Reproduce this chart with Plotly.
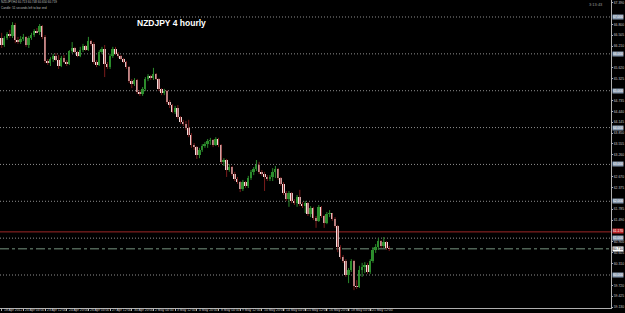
import plotly.graph_objects as go

# ---------------- data ----------------
open0 = 66.43
close = [66.24, 66.43, 66.54, 66.48, 66.78, 66.38, 66.32, 66.40, 66.46, 66.24,
         66.43, 66.51, 66.62, 66.59, 66.76, 66.46, 65.81, 65.75, 65.86, 65.94,
         65.83, 65.67, 65.89, 65.78, 65.72, 66.08, 66.16, 66.05, 65.94, 66.10,
         66.21, 66.10, 66.35, 66.27, 65.78, 65.70, 66.05, 66.13, 65.72, 65.64,
         65.94, 66.13, 66.00, 65.94, 65.86, 65.78, 65.64, 65.26, 65.18, 65.29,
         64.97, 64.91, 65.05, 65.32, 65.40, 65.34, 65.45, 65.32, 65.05, 64.94,
         64.99, 64.69, 64.61, 64.42, 64.53, 64.29, 64.15, 64.10, 63.99, 63.80,
         63.53, 63.47, 63.26, 63.39, 63.50, 63.55, 63.64, 63.66, 63.53, 63.69,
         63.53, 63.07, 63.12, 62.85, 62.93, 62.74, 62.61, 62.52, 62.33, 62.52,
         62.42, 62.63, 62.80, 62.88, 62.99, 62.80, 62.74, 62.66, 62.61, 62.66,
         62.80, 62.88, 62.63, 62.47, 62.23, 62.06, 62.23, 62.01, 61.95, 62.12,
         61.93, 61.87, 61.95, 61.66, 61.82, 61.55, 61.47, 61.85, 61.60, 61.41,
         61.66, 61.68, 61.52, 61.33, 60.76, 60.49, 60.38, 60.00, 60.14, 60.38,
         59.70, 59.68, 60.14, 60.22, 60.27, 60.08, 60.38, 60.68, 60.76, 60.92,
         60.79, 60.90, 60.73, 60.71]
high = [66.57, 66.48, 66.59, 66.65, 66.86, 66.84, 66.46, 66.48, 66.54, 66.48,
        66.48, 66.57, 66.67, 66.70, 66.81, 66.78, 66.51, 65.86, 65.91, 66.00,
        66.02, 65.97, 65.94, 65.97, 65.83, 66.10, 66.32, 66.19, 66.08, 66.19,
        66.27, 66.24, 66.46, 66.38, 66.32, 65.83, 66.10, 66.19, 66.24, 65.78,
        66.00, 66.19, 66.19, 66.05, 65.97, 65.89, 65.81, 65.67, 65.32, 65.34,
        65.32, 65.02, 65.10, 65.37, 65.45, 65.43, 65.62, 65.48, 65.34, 65.07,
        65.05, 65.02, 64.75, 64.64, 64.59, 64.61, 64.31, 64.21, 64.18, 64.21,
        63.85, 63.58, 63.50, 63.45, 63.55, 63.61, 63.69, 63.72, 63.69, 63.74,
        63.72, 63.55, 63.17, 63.15, 63.01, 62.96, 62.80, 62.66, 62.55, 62.58,
        62.55, 62.69, 62.85, 62.93, 63.12, 63.07, 62.85, 62.80, 62.71, 62.71,
        62.90, 62.96, 62.90, 62.66, 62.52, 62.28, 62.28, 62.25, 62.06, 62.17,
        62.31, 61.98, 62.01, 61.98, 61.87, 61.85, 61.60, 61.90, 61.87, 61.63,
        61.71, 61.76, 61.68, 61.57, 61.36, 60.81, 60.54, 60.43, 60.19, 60.43,
        60.41, 59.86, 60.25, 60.33, 60.35, 60.33, 60.43, 60.76, 60.84, 61.00,
        60.95, 61.03, 60.92, 60.79]
low = [66.16, 66.19, 66.38, 66.43, 66.43, 66.29, 66.27, 66.27, 66.35, 66.19,
       66.16, 66.38, 66.46, 66.57, 66.51, 66.40, 65.75, 65.70, 65.67, 65.78,
       65.81, 65.59, 65.64, 65.75, 65.67, 65.70, 66.02, 66.02, 65.91, 65.91,
       66.05, 66.08, 66.08, 66.21, 65.72, 65.64, 65.67, 66.00, 65.37, 65.59,
       65.59, 65.89, 65.97, 65.89, 65.83, 65.75, 65.59, 65.21, 65.07, 65.13,
       64.91, 64.86, 64.86, 64.99, 65.26, 65.29, 65.29, 65.29, 64.99, 64.88,
       64.88, 64.64, 64.53, 64.40, 64.37, 64.23, 64.10, 64.04, 63.93, 63.74,
       63.45, 63.39, 63.15, 63.17, 63.34, 63.45, 63.45, 63.53, 63.47, 63.50,
       63.47, 63.01, 62.96, 62.66, 62.80, 62.69, 62.55, 62.47, 62.25, 62.28,
       62.36, 62.36, 62.58, 62.71, 62.82, 62.74, 62.69, 62.28, 62.55, 62.55,
       62.55, 62.63, 62.58, 62.42, 62.17, 62.01, 61.85, 61.95, 61.90, 61.85,
       61.87, 61.82, 61.68, 61.60, 61.57, 61.49, 61.28, 61.44, 61.55, 61.28,
       61.38, 61.57, 61.47, 61.28, 60.62, 60.43, 60.33, 59.95, 59.78, 60.08,
       59.59, 59.62, 59.65, 59.95, 60.05, 60.03, 60.03, 60.33, 60.60, 60.68,
       60.73, 60.73, 60.68, 60.65]

date_labels = ["18 Apr 2012", "20 Apr 04:00", "23 Apr 12:00", "24 Apr 20:00",
               "26 Apr 04:00", "27 Apr 12:00", "30 Apr 20:00", "2 May 04:00",
               "3 May 12:00", "4 May 20:00", "8 May 04:00", "9 May 12:00",
               "10 May 20:00", "14 May 04:00", "15 May 12:00", "16 May 20:00",
               "18 May 04:00", "21 May 12:00"]
date_label_bars = [0, 8, 16, 24, 32, 40, 48, 56, 64, 72, 80, 88, 96, 104,
                   112, 120, 128, 136]

# scale labels not covered by the level boxes
price_ticks = [59.130, 59.425, 59.720, 60.310, 60.605, 60.900,
               61.490, 61.785, 62.375, 62.670, 63.260, 63.555,
               63.850, 64.145, 64.440, 64.735, 65.325, 65.620,
               66.210, 66.505, 66.800, 67.390]

level_lines = [60.0, 61.0, 62.0, 63.0, 64.0, 65.0, 66.0, 67.0]
red_level = 61.17
bid_price = close[-1]

title_text = "NZDJPY 4 hourly"
info_line1 = "NZDJPY,H4 60.713 60.748 60.650 60.719"
info_line2 = "Candle: 51 seconds left to bar end"
timer_text = "3:13:43"

# ---------------- build ----------------
n = len(close)
opens = [open0] + close[:-1]
idx = list(range(n))

BULL_BODY = "#2e8f2e"
BULL_WICK = "#2b8a2b"
BEAR_BODY = "#f5dcdc"
BEAR_WICK = "#7a1c1c"

wx_bull, wy_bull, wx_bear, wy_bear = [], [], [], []
body_base, body_h, body_col = [], [], []
for i in idx:
    o, c, h, l = opens[i], close[i], high[i], low[i]
    bull = c >= o
    if bull:
        wx_bull += [i, i, None]
        wy_bull += [l, h, None]
    else:
        wx_bear += [i, i, None]
        wy_bear += [l, h, None]
    body_base.append(min(o, c))
    body_h.append(max(abs(c - o), 0.012))
    body_col.append(BULL_BODY if bull else BEAR_BODY)

fig = go.Figure()
fig.add_trace(go.Scatter(x=wx_bear, y=wy_bear, mode="lines",
                         line=dict(color=BEAR_WICK, width=1),
                         hoverinfo="skip", showlegend=False))
fig.add_trace(go.Scatter(x=wx_bull, y=wy_bull, mode="lines",
                         line=dict(color=BULL_WICK, width=1),
                         hoverinfo="skip", showlegend=False))
fig.add_trace(go.Bar(x=idx, y=body_h, base=body_base, width=0.72,
                     marker=dict(color=body_col, line=dict(width=0)),
                     showlegend=False))

BOX_FONT = dict(size=3.3, family="Liberation Sans")
for lv in level_lines:
    fig.add_shape(type="line", xref="paper", x0=0, x1=1, y0=lv, y1=lv,
                  line=dict(color="#8f8f8f", width=1, dash="1px,2px"), layer="below")
    fig.add_annotation(xref="paper", x=1, y=lv, xanchor="left", yanchor="middle",
                       text=f"{lv:.3f}", showarrow=False, bgcolor="#8597ad",
                       font=dict(BOX_FONT, color="#ffffff"),
                       borderpad=0, xshift=1)

fig.add_shape(type="line", xref="paper", x0=0, x1=1, y0=red_level, y1=red_level,
              line=dict(color="#9e2626", width=1), layer="below")
fig.add_annotation(xref="paper", x=1, y=red_level, xanchor="left", yanchor="middle",
                   text=f"{red_level:.3f}", showarrow=False, bgcolor="#c0282d",
                   font=dict(BOX_FONT, color="#ffffff"),
                   borderpad=0, xshift=1, yshift=1)

fig.add_shape(type="line", xref="paper", x0=0, x1=1, y0=bid_price, y1=bid_price,
              line=dict(color="#76947f", width=1, dash="dashdot"), layer="below")
fig.add_annotation(xref="paper", x=1, y=bid_price, xanchor="left", yanchor="middle",
                   text=f"{bid_price:.3f}", showarrow=False, bgcolor="#ffffff",
                   font=dict(BOX_FONT, color="#000000"),
                   borderpad=0, xshift=1)

# time-axis labels, set just right of each tick as the terminal draws them
for b, lab in zip(date_label_bars, date_labels):
    fig.add_annotation(x=b, xref="x", yref="paper", y=-5 / 308, xanchor="left",
                       yanchor="bottom", text=lab, showarrow=False, xshift=1,
                       font=dict(size=3.4, color="#c8c8c8", family="Liberation Sans"),
                       borderpad=0)

fig.add_annotation(xref="paper", yref="paper", x=0.221, y=0.926, xanchor="left",
                   yanchor="middle", text=f"<b>{title_text}</b>", showarrow=False,
                   font=dict(size=8.5, color="#ffffff", family="Liberation Sans"))
fig.add_annotation(xref="paper", yref="paper", x=0.0, y=1.0, xanchor="left",
                   yanchor="top", text=info_line1, showarrow=False,
                   font=dict(size=3, color="#bdbdbd", family="Liberation Sans"),
                   borderpad=0, yshift=1)
fig.add_annotation(xref="paper", yref="paper", x=0.0, y=0.985, xanchor="left",
                   yanchor="top", text=info_line2, showarrow=False,
                   font=dict(size=3, color="#bdbdbd", family="Liberation Sans"),
                   borderpad=0)
fig.add_annotation(xref="paper", yref="paper", x=0.988, y=0.996, xanchor="right",
                   yanchor="top", text=timer_text, showarrow=False,
                   font=dict(size=4, color="#9a9a9a", family="Liberation Sans"),
                   borderpad=0)

px_per_bar = 2.71
plot_w = 611
x0 = -1.7 / px_per_bar
fig.update_layout(
    width=625, height=313,
    margin=dict(l=0, r=14, t=0, b=5, autoexpand=False),
    paper_bgcolor="#000000", plot_bgcolor="#000000",
    bargap=0, showlegend=False,
    xaxis=dict(range=[x0, x0 + plot_w / px_per_bar], showgrid=False, zeroline=False,
               automargin=False,
               tickmode="array", tickvals=date_label_bars, showticklabels=False,
               ticks="outside", ticklen=2, tickcolor="#b0b0b0",
               showline=True, linecolor="#b0b0b0", linewidth=1),
    yaxis=dict(range=[59.105, 67.461], side="right", showgrid=False, zeroline=False,
               automargin=False,
               tickmode="array", tickvals=price_ticks,
               ticktext=[f"{v:.3f}" for v in price_ticks],
               ticks="outside", ticklen=1, tickcolor="#b0b0b0",
               tickfont=dict(size=3.4, color="#c8c8c8", family="Liberation Sans"),
               showline=True, linecolor="#b0b0b0", linewidth=1),
)

fig.write_html("out.html")
